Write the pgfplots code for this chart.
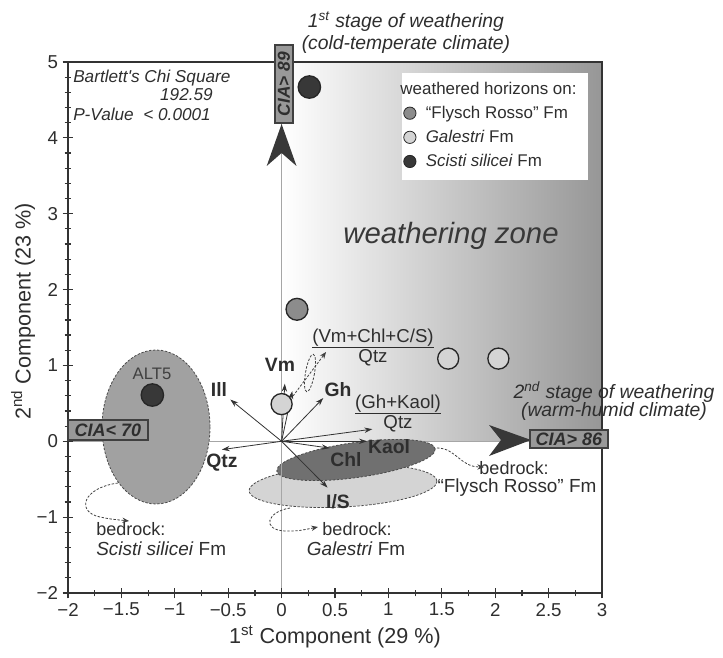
\documentclass[border=0pt]{standalone}
\usepackage{fontspec}
\setmainfont{Liberation Sans}
\usepackage{pgfplots}
\pgfplotsset{compat=1.18}
\usetikzlibrary{arrows.meta}
\definecolor{txt}{HTML}{2E2E2E}
\pgfplotsset{
  smallmark legend/.style={legend image code/.code={\path[draw=none,fill=none] (0cm,0cm) rectangle (0.55cm,0.01cm); \draw[##1, mark size=4.6pt, every mark/.append style={line width=0.6pt}] plot coordinates {(0.2cm,0cm)};}},
  vec/.style={forget plot, black!80, line width=0.6pt, -{Stealth[length=6pt,width=4pt]}},
}
\begin{document}
\begin{tikzpicture}
% ---------- background decorations (pixel coordinates of the reference) ----------
\begin{scope}[shift={(-51pt,444.75pt)}, x=0.75pt, y=-0.75pt]
  \shade[left color=white, right color=black!41] (281.6,62) rectangle (602,441);
  \fill[white] (402,73) rectangle (588,180);
  \draw[black!35, line width=0.7pt] (68,441) -- (602,441);
  \draw[dash pattern=on 1.8pt off 1.2pt, draw=black!70, line width=0.6pt, fill=black!37]
     (156,427) ellipse [x radius=54, y radius=77];
  \draw[dash pattern=on 1.8pt off 1.2pt, draw=black!70, line width=0.6pt, fill=black!17, rotate around={3:(343,486)}]
     (343,486) ellipse [x radius=94, y radius=21];
  \draw[dash pattern=on 1.8pt off 1.2pt, draw=black!70, line width=0.6pt, fill=black!56, rotate around={8:(356,460)}]
     (356,460) ellipse [x radius=80, y radius=17.5];
  \draw[black!35, line width=0.7pt] (281.6,62) -- (281.6,593);
\end{scope}
% ---------- axis ----------
\begin{axis}[
  scale only axis, width=400.5pt, height=398.25pt,
  xmin=-2, xmax=3, ymin=-2, ymax=5,
  clip=false,
  axis line style={draw=black!80, line width=1.1pt},
  xtick={-2,-1.5,-1,-0.5,0,0.5,1,1.5,2,2.5,3},
  xticklabels={−2,−1.5,−1,−0.5,0,0.5,1,1.5,2,2.5,3},
  ytick={-2,-1,0,1,2,3,4,5},
  yticklabels={−2,−1,0,1,2,3,4,5},
  minor x tick num=1, minor y tick num=4,
  tick pos=left, tick align=center,
  major tick length=8pt, minor tick length=5pt,
  tick style={black!80, line width=0.9pt},
  ticklabel style={font=\fontsize{14}{16}\selectfont, text=txt},
  xlabel={1\textsuperscript{st} Component (29 \%)},
  ylabel={2\textsuperscript{nd} Component (23 \%)},
  label style={font=\fontsize{16.2}{19}\selectfont, text=txt},
  xlabel style={at={(axis description cs:0.5,-0.083)}, anchor=center},
  ylabel style={at={(axis description cs:-0.084,0.53)}, anchor=center},
  legend style={at={(0.6255,0.968)}, anchor=north west, fill=none, draw=none,
     font=\fontsize{12.7}{15}\selectfont, text=txt, inner xsep=0pt, inner ysep=0pt, row sep=3.4pt},
  legend cell align=left,
]
\addlegendimage{empty legend}
\addlegendentry{\hspace*{-19pt}weathered horizons on:}
% Flysch Rosso Fm
\addplot[only marks, mark=*, mark size=8.2pt, mark options={fill=black!45, draw=black!85, line width=1pt}, smallmark legend]
  coordinates {(0.144,1.74)};
\addlegendentry{“Flysch Rosso” Fm}
% Galestri Fm
\addplot[only marks, mark=*, mark size=7.9pt, mark options={fill=black!17, draw=black!85, line width=1pt}, smallmark legend]
  coordinates {(0.0,0.49) (1.56,1.09) (2.03,1.09)};
\addlegendentry{\textit{Galestri} Fm}
% Scisti silicei Fm
\addplot[only marks, mark=*, mark size=8.4pt, mark options={fill=black!78, draw=black!85, line width=1pt}, smallmark legend]
  coordinates {(0.26,4.67) (-1.21,0.61)};
\addlegendentry{\textit{Scisti silicei} Fm}
% loading vectors
\addplot[vec] coordinates {(0,0) (-0.48,0.55)};  % Ill
\addplot[vec] coordinates {(0,0) (-0.56,-0.11)}; % Qtz
\addplot[vec] coordinates {(0,0) (0.03,0.76)};   % Vm
\addplot[vec] coordinates {(0,0) (0.10,0.66)};   % (Vm+Chl+C/S)/Qtz
\addplot[vec] coordinates {(0,0) (0.39,0.57)};   % Gh
\addplot[vec] coordinates {(0,0) (0.85,0.16)};   % (Gh+Kaol)/Qtz
\addplot[vec] coordinates {(0,0) (0.80,0.0)};    % Kaol
\addplot[vec] coordinates {(0,0) (0.45,-0.09)};  % Chl
\addplot[vec] coordinates {(0,0) (0.43,-0.61)};  % I/S
\end{axis}
% ---------- annotations (pixel coordinates) ----------
\begin{scope}[shift={(-51pt,444.75pt)}, x=0.75pt, y=-0.75pt, every node/.style={text=txt}]
  % titles
  \node[align=center, font=\itshape\fontsize{14.5}{16.5}\selectfont] at (406,33)
     {1\textsuperscript{st} stage of weathering\\(cold-temperate climate)};
  \node[align=center, font=\itshape\fontsize{14.5}{13.8}\selectfont] at (614,401)
     {2\textsuperscript{nd} stage of weathering\\(warm-humid climate)};
  \node[font=\itshape\fontsize{22}{26}\selectfont, text=black!78] at (451,236) {weathering zone};
  % statistics
  \node[anchor=west, inner sep=0pt, font=\itshape\fontsize{12.9}{15}\selectfont] at (73,78) {Bartlett\textquotesingle s Chi Square};
  \node[anchor=east, inner sep=0pt, font=\itshape\fontsize{12.9}{15}\selectfont] at (213,95) {192.59};
  \node[anchor=west, inner sep=0pt, font=\itshape\fontsize{12.9}{15}\selectfont] at (73,114) {P-Value\ \ {<} 0.0001};
  % CIA boxes and arrowheads
  \fill[black!78] (281.6,124) -- (296.5,166) -- (281.6,153) -- (266.7,166) -- cycle;
  \fill[black!78] (531,440) -- (489,425) -- (501,440) -- (489,456) -- cycle;
  \node[rotate=90, fill=black!40, draw=black!75, line width=0.8pt, minimum width=58.5pt, minimum height=13.5pt, inner sep=0pt,
        font=\bfseries\itshape\fontsize{13}{15}\selectfont] at (284,84) {CIA> 89};
  \node[fill=black!40, draw=black!75, line width=0.8pt, minimum width=60pt, minimum height=15pt, inner sep=0pt,
        font=\bfseries\itshape\fontsize{13.5}{15}\selectfont] at (108,430) {CIA< 70};
  \node[fill=black!40, draw=black!75, line width=0.8pt, minimum width=58.5pt, minimum height=13.5pt, inner sep=0pt,
        font=\bfseries\itshape\fontsize{13.5}{15}\selectfont] at (569,439) {CIA> 86};
  % vector labels
  \begin{scope}[every node/.style={text=txt, font=\bfseries\fontsize{14.5}{16}\selectfont, inner sep=0pt}]
    \node at (219,389) {Ill};
    \node at (222,463) {Qtz};
    \node at (280,365) {Vm};
    \node at (338,390) {Gh};
    \node at (389,447) {Kaol};
    \node at (346,460) {Chl};
    \node at (338,502) {I/S};
  \end{scope}
  \node[align=center, inner sep=0pt, font=\fontsize{14}{15}\selectfont] at (373,347) {\underline{(Vm+Chl+C/S)}\\Qtz};
  \node[align=center, inner sep=0pt, font=\fontsize{14}{15}\selectfont] at (398,413) {\underline{(Gh+Kaol)}\\Qtz};
  \node[font=\fontsize{12.5}{14}\selectfont, text=black!75] at (152,374) {ALT5};
  % bedrock labels
  \node[anchor=west, inner sep=0pt, font=\fontsize{13.5}{15}\selectfont] at (96,529) {bedrock:};
  \node[anchor=west, inner sep=0pt, font=\fontsize{14.2}{16}\selectfont] at (96,549) {\textit{Scisti silicei} Fm};
  \node[inner sep=0pt, font=\fontsize{13.5}{15}\selectfont] at (357,529) {bedrock:};
  \node[inner sep=0pt, font=\fontsize{14.2}{16}\selectfont] at (356,549) {\textit{Galestri} Fm};
  \node[inner sep=0pt, font=\fontsize{13.5}{15}\selectfont] at (514,468) {bedrock:};
  \node[inner sep=0pt, font=\fontsize{14.2}{16}\selectfont] at (517,488) {“Flysch Rosso” Fm};
  % dashed pointers
  \begin{scope}[black!75, line width=0.6pt, dash pattern=on 1.8pt off 1.2pt]
    \draw[-{Stealth[length=5pt,width=4pt]}] (118,483) .. controls (82,488) and (76,512) .. (100,517) .. controls (110,519) .. (129,521);
    \draw[-{Stealth[length=5pt,width=4pt]}] (290,508) .. controls (266,512) and (262,530) .. (285,531) .. controls (298,531) .. (318,527);
    \draw[-{Stealth[length=5pt,width=4pt]}] (437,448) .. controls (456,448) and (460,467) .. (484,467);
    \draw[-{Stealth[length=5pt,width=4pt]}] (293,396) -- (326,352);
    \draw[rotate around={-10:(310,373)}] (310,373) ellipse [x radius=4.5, y radius=19];
  \end{scope}
  \pgfresetboundingbox
  \path (0,0) rectangle (723,657);
\end{scope}
\end{tikzpicture}
\end{document}
